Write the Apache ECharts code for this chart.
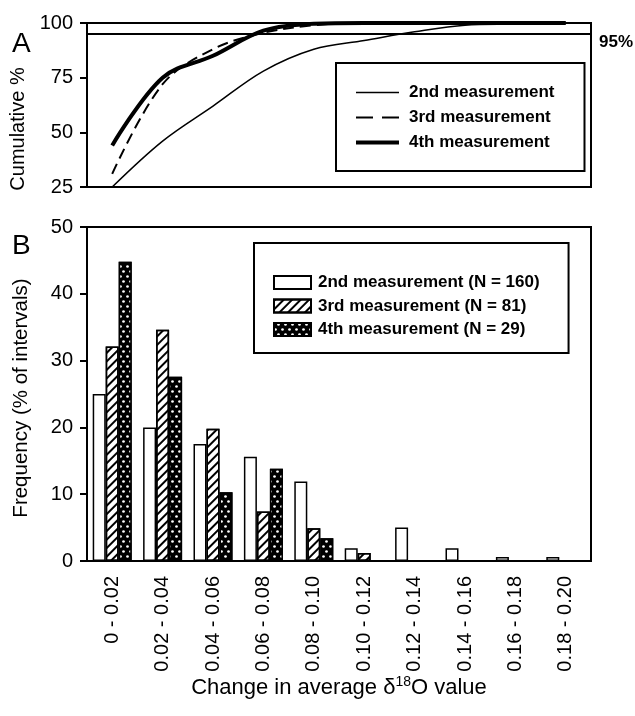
<!DOCTYPE html>
<html>
<head>
<meta charset="utf-8">
<script src="https://cdn.jsdelivr.net/npm/echarts@6/dist/echarts.min.js"></script>
<style>html,body{margin:0;padding:0;background:#fff}#c{width:635px;height:716px}</style>
</head>
<body>
<div id="c"></div>
<script>
// ---- data ----
var categories = ['0 - 0.02','0.02 - 0.04','0.04 - 0.06','0.06 - 0.08','0.08 - 0.10','0.10 - 0.12','0.12 - 0.14','0.14 - 0.16','0.16 - 0.18','0.18 - 0.20'];
var seriesNames = ['2nd measurement','3rd measurement','4th measurement'];
var barNames = ['2nd measurement (N = 160)','3rd measurement (N = 81)','4th measurement (N = 29)'];
var freq2nd = [25.0, 20.0, 17.5, 15.6, 11.9, 1.9, 5.0, 1.9, 0.6, 0.6];
var freq3rd = [32.1, 34.6, 19.8, 7.4, 4.9, 1.2, 0, 0, 0, 0];
var freq4th = [44.8, 27.6, 10.3, 13.8, 3.4, 0, 0, 0, 0, 0];
var cum2nd = [25, 46, 62, 78, 88, 92, 96, 99, 99.5, 100];
var cum3rd = [31, 72, 88, 95.5, 99, 100, 100, 100, 100, 100];
var cum4th = [44, 75, 85, 96.5, 99.7, 100, 100, 100, 100, 100];
var cumTicks = [25, 50, 75, 100];
var freqTicks = [0, 10, 20, 30, 40, 50];
var threshold = 95;

var FONT = '"Liberation Sans", Arial, Helvetica, sans-serif';
var chart = echarts.init(document.getElementById('c'), null, {renderer: 'canvas'});

var lineWidths = [1.5, 2, 4];
var lineTypes = ['solid', [11, 6], 'solid'];
var legendLineTypes = ['solid', [17, 9], 'solid'];
var axisLineStyle = {color: '#000', width: 2};
var option = {
  animation: false,
  backgroundColor: '#fff',
  textStyle: {fontFamily: FONT, color: '#000'},
  grid: [
    {left: 87, right: 44, top: 23, height: 164, show: true, borderColor: '#000', borderWidth: 2, backgroundColor: 'transparent'},
    {left: 87, right: 44, top: 227, height: 334, show: true, borderColor: '#000', borderWidth: 2, backgroundColor: 'transparent'}
  ],
  xAxis: [
    {type: 'category', gridIndex: 0, data: categories, boundaryGap: true,
     axisLine: {lineStyle: axisLineStyle},
     axisTick: {alignWithLabel: true, length: 6, lineStyle: {color: '#000', width: 2}},
     axisLabel: {show: false}},
    {type: 'category', gridIndex: 1, data: categories, boundaryGap: true,
     axisLine: {lineStyle: axisLineStyle},
     axisTick: {alignWithLabel: true, length: 6, lineStyle: {color: '#000', width: 2}},
     axisLabel: {rotate: 90, fontSize: 20, color: '#000', margin: 15, fontFamily: FONT},
     name: 'Change in average δ{sup|18}O value', nameLocation: 'middle', nameGap: 114,
     nameTextStyle: {fontSize: 22, color: '#000', fontFamily: FONT,
       rich: {sup: {fontSize: 14, fontFamily: FONT, verticalAlign: 'bottom', padding: [0, 0, 10, 0]}}}}
  ],
  yAxis: [
    {type: 'value', gridIndex: 0, min: cumTicks[0], max: cumTicks[cumTicks.length - 1], interval: 25,
     axisLine: {show: true, lineStyle: axisLineStyle},
     axisTick: {show: true, length: 7, lineStyle: {color: '#000', width: 2}},
     splitLine: {show: false},
     axisLabel: {fontSize: 20, color: '#000', margin: 14, fontFamily: FONT},
     name: 'Cumulative %', nameLocation: 'middle', nameGap: 55,
     nameTextStyle: {fontSize: 20, color: '#000', fontFamily: FONT, padding: [0, 48, 0, 0]}},
    {type: 'value', gridIndex: 1, min: freqTicks[0], max: freqTicks[freqTicks.length - 1], interval: 10,
     axisLine: {show: true, lineStyle: axisLineStyle},
     axisTick: {show: true, length: 7, lineStyle: {color: '#000', width: 2}},
     splitLine: {show: false},
     axisLabel: {fontSize: 20, color: '#000', margin: 14, fontFamily: FONT},
     name: 'Frequency (% of intervals)', nameLocation: 'middle', nameGap: 55,
     nameTextStyle: {fontSize: 20.5, color: '#000', fontFamily: FONT, padding: [0, 8, 0, 0]}}
  ],
  legend: [
    {data: seriesNames.map(function (n, i) {
        return {name: n,
          itemStyle: {color: 'rgba(0,0,0,0)', borderColor: 'rgba(0,0,0,0)', borderWidth: 0, opacity: 0},
          lineStyle: {width: lineWidths[i], type: legendLineTypes[i], color: '#000'}};
     }),
     left: 336, top: 63, orient: 'vertical', itemGap: 8,
     itemWidth: 43, itemHeight: 14,
     padding: [21, 30, 20, 18], borderColor: '#000', borderWidth: 2, backgroundColor: '#fff',
     textStyle: {fontSize: 17, fontWeight: 'bold', color: '#000', fontFamily: FONT, padding: [0, 0, 0, 5]}},
    {data: barNames.map(function (n) { return {name: n, icon: 'rect'}; }),
     left: 254, top: 243, orient: 'vertical', itemGap: 6.5,
     itemWidth: 37, itemHeight: 13,
     padding: [31, 29, 15, 19], borderColor: '#000', borderWidth: 2, backgroundColor: '#fff',
     textStyle: {fontSize: 17, fontWeight: 'bold', color: '#000', fontFamily: FONT, padding: [0, 0, 0, 2]}}
  ],
  graphic: [
    {type: 'text', left: 12, top: 30, style: {text: 'A', font: '28px ' + FONT, fill: '#000'}},
    {type: 'text', left: 12, top: 232, style: {text: 'B', font: '28px ' + FONT, fill: '#000'}}
  ],
  series: [
    {name: seriesNames[0], type: 'line', xAxisIndex: 0, yAxisIndex: 0, data: cum2nd,
     smooth: 0.35, symbol: 'none', lineStyle: {color: '#000', width: lineWidths[0], type: lineTypes[0]}, itemStyle: {color: '#000'},
     z: 3,
     markLine: {silent: true, symbol: 'none', data: [{yAxis: threshold}],
       lineStyle: {color: '#000', width: 2, type: 'solid'},
       label: {show: true, position: 'end', formatter: '95%', distance: 8, fontSize: 17, fontWeight: 'bold', color: '#000', fontFamily: FONT, verticalAlign: 'top'}}},
    {name: seriesNames[1], type: 'line', xAxisIndex: 0, yAxisIndex: 0, data: cum3rd,
     smooth: 0.35, symbol: 'none', lineStyle: {color: '#000', width: lineWidths[1], type: lineTypes[1]}, itemStyle: {color: '#000'}, z: 3},
    {name: seriesNames[2], type: 'line', xAxisIndex: 0, yAxisIndex: 0, data: cum4th,
     smooth: 0.35, symbol: 'none', lineStyle: {color: '#000', width: lineWidths[2], type: lineTypes[2]}, itemStyle: {color: '#000'}, z: 3},
    {name: barNames[0], type: 'bar', xAxisIndex: 1, yAxisIndex: 1, data: freq2nd,
     barWidth: 13, barGap: '0%',
     itemStyle: {color: '#fff', borderColor: '#000', borderWidth: 1.5}},
    {name: barNames[1], type: 'bar', xAxisIndex: 1, yAxisIndex: 1, data: freq3rd,
     barWidth: 13, barGap: '0%',
     itemStyle: {color: '#fff', borderColor: '#000', borderWidth: 1.5,
       decal: {symbol: 'rect', symbolSize: 1, color: '#000', dashArrayX: [1, 0], dashArrayY: [1.6, 3.4], rotation: -Math.PI / 4}}},
    {name: barNames[2], type: 'bar', xAxisIndex: 1, yAxisIndex: 1, data: freq4th,
     barWidth: 13, barGap: '0%',
     itemStyle: {color: '#000', borderColor: '#000', borderWidth: 1.5,
       decal: {symbol: 'circle', symbolSize: 0.9, color: '#fff', dashArrayX: [[2.5, 3.5], [0, 3, 2.5, 0.5]], dashArrayY: [2.5, 1.5], rotation: 0}}}
  ]
};
chart.setOption(option);
</script>
</body>
</html>
